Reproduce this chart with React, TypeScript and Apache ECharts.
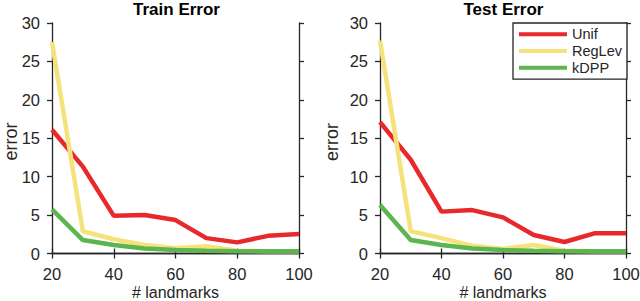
import React, { useEffect, useRef } from "react";
import * as echarts from "echarts";

const landmarks = [20, 30, 40, 50, 60, 70, 80, 90, 100];
const trainUnif = [16.1, 11.3, 4.9, 5.0, 4.35, 2.0, 1.45, 2.3, 2.55];
const trainRegLev = [27.5, 2.9, 1.85, 1.1, 0.7, 0.95, 0.35, 0.3, 0.3];
const trainKdpp = [5.75, 1.75, 1.1, 0.65, 0.45, 0.35, 0.3, 0.3, 0.3];
const testUnif = [17.1, 12.2, 5.45, 5.65, 4.7, 2.4, 1.5, 2.65, 2.65];
const testRegLev = [27.7, 2.9, 2.0, 1.0, 0.6, 1.1, 0.35, 0.3, 0.3];
const testKdpp = [6.3, 1.75, 1.1, 0.65, 0.45, 0.35, 0.3, 0.3, 0.3];
const seriesNames = ["Unif", "RegLev", "kDPP"];
const titles = ["Train Error", "Test Error"];
const xName = "# landmarks";
const yName = "error";

const COLORS = ["#e8292b", "#f5e27b", "#5cb54f"];
const INK = "#262626";
const FONT = "Liberation Sans";

export default function App() {
  const ref = useRef<HTMLDivElement>(null);
  useEffect(() => {
    if (!ref.current) return;
    const chart = echarts.init(ref.current, null, { renderer: "svg" });
    const pairs = (ys: number[]) => landmarks.map((x, i) => [x, ys[i]]);
    const axisLine = { show: true, lineStyle: { color: INK, width: 1.3 } };
    const tick = { show: true, inside: false, length: 5, lineStyle: { color: INK, width: 1.3 } };
    const lbl = { color: INK, fontSize: 16.5, fontFamily: FONT };
    const xAxes: any[] = [];
    const yAxes: any[] = [];
    [0, 1].forEach((g) => {
      xAxes.push({
        type: "value", gridIndex: g, min: 20, max: 100, interval: 20, position: "bottom",
        axisLine, axisTick: tick, splitLine: { show: false },
        axisLabel: { ...lbl, margin: 12 },
      });
      xAxes.push({
        type: "value", gridIndex: g, min: 20, max: 100, interval: 20, position: "top",
        axisLine, axisTick: tick, splitLine: { show: false }, axisLabel: { show: false },
      });
      yAxes.push({
        type: "value", gridIndex: g, min: 0, max: 30, interval: 5, position: "left",
        axisLine, axisTick: tick, splitLine: { show: false },
        axisLabel: { ...lbl, margin: 12 },
      });
      yAxes.push({
        type: "value", gridIndex: g, min: 0, max: 30, interval: 5, position: "right",
        axisLine, axisTick: tick, splitLine: { show: false }, axisLabel: { show: false },
      });
    });
    const data = [
      [trainUnif, trainRegLev, trainKdpp],
      [testUnif, testRegLev, testKdpp],
    ];
    const series: any[] = [];
    data.forEach((set, g) => {
      set.forEach((ys, k) => {
        series.push({
          type: "line", name: seriesNames[k], xAxisIndex: g * 2, yAxisIndex: g * 2,
          data: pairs(ys), showSymbol: false, symbol: "none",
          lineStyle: { color: COLORS[k], width: 4.5 }, itemStyle: { color: COLORS[k] },
          z: 2 + k,
        });
      });
    });
    const nameText = (text: string, x: number, y: number, size: number, rot: number) => ({
      type: "text", x, y, rotation: rot, silent: true,
      style: {
        text, fill: INK, fontSize: size, fontFamily: FONT,
        align: "center", verticalAlign: "middle",
        textAlign: "center", textVerticalAlign: "middle",
      },
    });
    chart.setOption({
      animation: false,
      backgroundColor: "#ffffff",
      title: [
        { text: titles[0], left: 176.5, top: 1, padding: 0, textAlign: "center",
          textStyle: { fontSize: 17, fontWeight: "bold", color: "#000", fontFamily: FONT } },
        { text: titles[1], left: 503.5, top: 1, padding: 0, textAlign: "center",
          textStyle: { fontSize: 17, fontWeight: "bold", color: "#000", fontFamily: FONT } },
      ],
      grid: [
        { left: 52, right: 341, top: 23, bottom: 47.5, containLabel: false, outerBoundsMode: "none" },
        { left: 380, right: 14, top: 23, bottom: 47.5, containLabel: false, outerBoundsMode: "none" },
      ],
      xAxis: xAxes,
      yAxis: yAxes,
      graphic: [
        nameText(xName, 175.5, 292.5, 16, 0),
        nameText(xName, 503, 292.5, 16, 0),
        nameText(yName, 10.5, 141.5, 18, Math.PI / 2),
        nameText(yName, 331.5, 142, 18, Math.PI / 2),
      ],
      legend: {
        data: seriesNames.map((n, k) => ({ name: n, itemStyle: { color: COLORS[k] } })),
        orient: "vertical", left: 513, top: 23,
        icon: "rect", itemWidth: 48, itemHeight: 4, itemGap: 0,
        padding: [3, 5, 3, 6],
        borderColor: INK, borderWidth: 1.3, backgroundColor: "#fff",
        textStyle: { color: INK, fontFamily: FONT, fontSize: 14.5, lineHeight: 16.7 },
      },
      series,
    });
    return () => chart.dispose();
  }, []);
  return <div ref={ref} style={{ width: 640, height: 301, position: "absolute", left: 0, top: 0 }} />;
}
